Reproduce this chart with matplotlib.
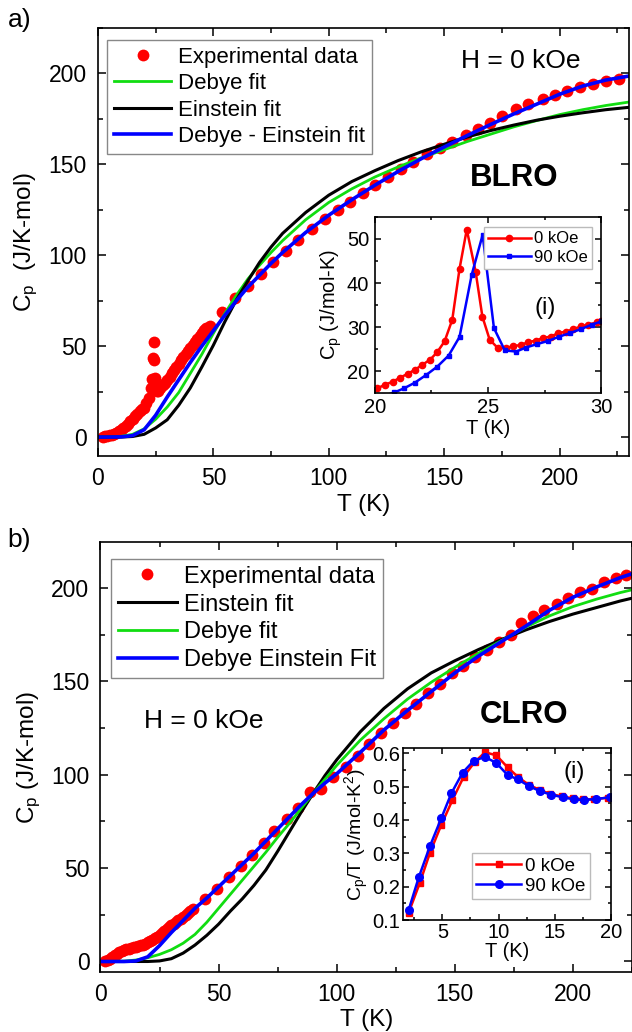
import matplotlib
matplotlib.use('Agg')
import matplotlib.pyplot as plt
from matplotlib.ticker import MultipleLocator

plt.rcParams['font.family'] = ['Liberation Sans', 'DejaVu Sans']
plt.rcParams['mathtext.default'] = 'regular'

# ---------- panel a (BLRO) ----------
a_T_dense = [2, 3, 4, 5, 6, 7, 8, 9, 10, 11, 12, 13, 14, 15, 16, 17, 18, 19, 20, 21, 22, 23,
             23.4, 23.7, 24.1, 24.45, 24.75, 25.1, 25.5, 26, 27, 28, 29, 30, 31, 32, 33, 34,
             35, 36, 37, 38, 39, 40, 41, 42, 43, 44, 45, 46, 47]
a_C_dense = [0.2, 0.4, 0.6, 0.9, 1.3, 1.8, 2.4, 3.1, 4.0, 5.0, 6.1, 7.3, 8.6, 10.0, 11.4, 12.9,
             14.3, 15.3, 16.2, 18.6, 21.5, 26.8, 31.7, 43.2, 52.1, 42.6, 32.4, 27.2, 25.3, 25.5,
             27.1, 28.5, 29.9, 31.5, 33.2, 35.0, 36.8, 38.6, 40.4, 42.1, 43.9, 45.6, 47.3, 49.0,
             50.7, 52.4, 54.0, 55.6, 57.2, 58.7, 60.0]
a_T_exp = [48.4, 53.6, 59.2, 65.0, 70.6, 76.0, 81.6, 86.8, 92.6, 98.2, 104.0, 109.2, 114.8,
           120.0, 125.6, 131.4, 136.6, 142.4, 148.0, 153.6, 159.4, 164.6, 169.9, 175.1, 180.9,
           186.4, 192.6, 197.8, 203.0, 208.8, 214.4, 220.2, 225.8]
a_C_exp = [61.2, 69.0, 76.4, 83.1, 89.5, 96.0, 102.5, 108.5, 114.5, 119.8, 124.7, 129.2, 134.0,
           138.6, 143.2, 147.6, 151.5, 155.6, 159.2, 162.5, 166.0, 169.6, 172.9, 176.4, 180.3,
           183.4, 186.1, 188.2, 190.3, 192.4, 194.1, 195.6, 196.7]

a_T_fit = [0, 5, 10, 15, 20, 25, 30, 35, 40, 45, 50, 55, 60, 65, 70, 75, 80, 90, 100, 110,
           120, 130, 140, 150, 160, 170, 180, 190, 200, 210, 220, 230]
a_debye = [0, 0.1, 0.4, 1.5, 4.5, 9.8, 16.5, 24.5, 35.0, 45.5, 57.0, 68.0, 78.0, 87.0, 94.5,
           101.5, 108.0, 119.5, 129.0, 136.5, 143.0, 148.5, 153.5, 158.0, 162.5, 166.5, 170.5,
           174.0, 177.3, 180.0, 182.3, 184.2]
a_einstein = [0, 0, 0, 0.3, 1.5, 5.0, 9.5, 17.5, 27.0, 38.5, 50.5, 63.5, 75.5, 86.0, 96.0,
              104.5, 112.0, 123.5, 133.0, 140.5, 146.5, 152.0, 156.8, 161.0, 165.0, 168.5,
              171.5, 174.2, 176.4, 178.3, 180.0, 181.3]
a_deb_ein = [0, 0, 0.1, 0.8, 4.0, 12.0, 22.0, 31.5, 41.0, 50.0, 58.5, 67.0, 75.0, 82.5, 89.0,
             95.5, 101.5, 112.5, 122.0, 130.5, 138.5, 146.0, 153.0, 159.5, 165.8, 171.8, 177.6,
             183.0, 188.5, 193.0, 196.3, 198.5]

# inset a: Cp vs T near transition
ia_T0 = [20.12, 20.45, 20.8, 21.12, 21.46, 21.78, 22.1, 22.45, 22.76, 23.08, 23.42, 23.74,
         24.06, 24.45, 24.75, 25.07, 25.43, 25.78, 26.1, 26.44, 26.76, 27.12, 27.44, 27.78,
         28.1, 28.45, 28.77, 29.11, 29.43, 29.79, 30.0]
ia_C0 = [16.2, 17.0, 17.7, 18.6, 19.5, 20.4, 21.5, 22.7, 24.4, 26.8, 31.7, 43.2, 52.1, 42.6,
         32.4, 27.2, 25.3, 25.3, 25.7, 26.0, 26.6, 27.0, 27.6, 27.9, 28.7, 29.0, 29.6, 30.2,
         30.6, 31.1, 31.5]
ia_T90 = [20.38, 20.86, 21.3, 21.78, 22.28, 22.76, 23.26, 23.74, 24.28, 24.76, 25.26, 25.74,
          26.24, 26.67, 27.17, 27.65, 28.15, 28.63, 29.11, 29.58, 30.0]
ia_C90 = [14.4, 15.25, 16.2, 17.5, 19.25, 21.1, 23.6, 27.8, 41.9, 50.9, 29.8, 24.75, 24.5,
          25.4, 26.2, 26.9, 27.9, 28.7, 29.6, 30.6, 31.3]

# ---------- panel b (CLRO) ----------
b_T_dense = [2, 3, 4, 5, 6, 7, 8, 9, 10, 11, 12, 13, 14, 15, 16, 17, 18, 19, 20, 21, 22, 23,
             24, 25, 26, 27, 28, 29, 30, 31, 32, 33, 34, 35, 36, 37, 38, 39]
b_C_dense = [0.5, 1.0, 1.6, 2.4, 3.3, 4.2, 5.0, 5.7, 6.2, 6.6, 6.9, 7.2, 7.5, 7.8, 8.2, 8.6,
             9.1, 9.6, 10.2, 10.9, 11.6, 12.4, 13.3, 14.3, 15.3, 16.3, 17.3, 18.3, 19.3, 20.3,
             21.2, 22.1, 23.0, 24.0, 25.0, 26.0, 27.0, 28.0]
b_T_exp = [44.4, 49.5, 54.3, 59.4, 64.0, 69.1, 73.4, 78.9, 83.6, 88.8, 93.5, 98.6, 103.8,
           108.8, 113.5, 118.6, 123.7, 128.8, 133.6, 138.5, 143.6, 148.7, 153.5, 158.6, 163.7,
           168.9, 173.6, 178.2, 183.3, 187.6, 193.2, 197.8, 202.9, 208.0, 213.2, 218.3, 222.5]
b_C_exp = [33.2, 39.0, 45.2, 51.0, 57.2, 63.5, 70.0, 76.5, 82.0, 90.5, 92.5, 98.8, 104.1,
           110.0, 116.5, 122.3, 127.7, 133.1, 138.1, 143.5, 148.8, 154.2, 158.3, 163.1, 166.9,
           171.1, 175.0, 181.0, 184.9, 188.1, 191.4, 194.4, 197.9, 199.6, 203.3, 205.1, 206.9]

b_T_fit = [0, 5, 10, 15, 20, 25, 30, 35, 40, 45, 50, 55, 60, 65, 70, 75, 80, 85, 90, 95, 100,
           110, 120, 130, 140, 150, 160, 170, 180, 190, 200, 210, 220, 226]
b_einstein = [0, 0, 0, 0, 0, 0.3, 1.5, 4.5, 8.8, 14.0, 20.0, 27.0, 33.5, 40.8, 49.0, 59.0,
              69.5, 80.0, 90.0, 99.5, 108.0, 123.0, 135.5, 146.0, 154.5, 161.0, 167.0, 172.5,
              177.5, 182.0, 186.0, 189.5, 193.0, 194.8]
b_debye = [0, 0, 0.2, 0.8, 2.0, 3.8, 6.3, 9.8, 14.5, 21.0, 28.5, 36.0, 43.5, 51.0, 58.5,
           66.5, 74.0, 82.0, 90.0, 97.5, 105.0, 118.5, 130.0, 140.5, 149.5, 157.5, 165.0,
           172.0, 179.0, 185.0, 190.0, 194.0, 197.5, 199.3]
b_deb_ein = [0, 0, 0, 0.3, 2.5, 8.5, 15.5, 22.0, 28.5, 34.0, 40.0, 46.0, 52.0, 58.0, 64.5,
             71.0, 77.5, 84.0, 90.0, 95.5, 100.5, 112.0, 124.0, 134.5, 144.5, 154.5, 163.5,
             171.5, 179.5, 188.0, 195.0, 200.5, 205.5, 208.0]

# inset b: Cp/T vs T
ib_T0 = [2.0, 3.0, 3.9, 4.9, 5.9, 6.9, 7.9, 8.8, 9.8, 10.8, 11.7, 12.7, 13.7, 14.6, 15.6,
         16.6, 17.5, 18.5, 19.7]
ib_C0 = [0.122, 0.212, 0.302, 0.385, 0.460, 0.530, 0.575, 0.603, 0.594, 0.558, 0.530, 0.505,
         0.490, 0.478, 0.471, 0.465, 0.462, 0.462, 0.467]
ib_T90 = [2.0, 2.9, 3.9, 4.9, 5.8, 6.8, 7.8, 8.8, 9.8, 10.8, 11.7, 12.7, 13.7, 14.7, 15.7,
          16.7, 17.6, 18.7, 19.9]
ib_C90 = [0.130, 0.228, 0.322, 0.405, 0.480, 0.542, 0.578, 0.589, 0.571, 0.535, 0.522, 0.502,
          0.486, 0.476, 0.468, 0.462, 0.460, 0.463, 0.468]

RED = '#ff0000'
GREEN = '#11dd11'
BLUE = '#0000ff'


def style_axes(ax, size, pad, major=6, minor=3.5):
    for s in ax.spines.values():
        s.set_linewidth(1.2)
    ax.tick_params(which='both', direction='in', top=True, right=True, width=1.1,
                   labelsize=size, pad=pad)
    ax.tick_params(which='major', length=major)
    ax.tick_params(which='minor', length=minor)


fig = plt.figure(figsize=(6.32, 10.32), dpi=100)

# ----- panel a -----
ax1 = fig.add_axes([0.155, 0.558, 0.840, 0.415])
ax1.plot(a_T_dense, a_C_dense, 'o', color=RED, ms=8.5, mew=0, label='Experimental data')
ax1.plot(a_T_exp, a_C_exp, 'o', color=RED, ms=8.5, mew=0)
ax1.plot(a_T_fit, a_debye, color=GREEN, lw=2.0, label='Debye fit')
ax1.plot(a_T_fit, a_einstein, color='black', lw=2.2, label='Einstein fit')
ax1.plot(a_T_fit, a_deb_ein, color=BLUE, lw=2.6, label='Debye - Einstein fit')
ax1.set_xlim(0, 230)
ax1.set_ylim(-10.5, 225)
ax1.xaxis.set_major_locator(MultipleLocator(50))
ax1.xaxis.set_minor_locator(MultipleLocator(25))
ax1.yaxis.set_major_locator(MultipleLocator(50))
ax1.yaxis.set_minor_locator(MultipleLocator(25))
style_axes(ax1, 16.5, 8)
ax1.set_xlabel('T (K)', fontsize=17.5, labelpad=3)
ax1.set_ylabel('C$_p$  (J/K-mol)', fontsize=17.5, labelpad=6)
leg = ax1.legend(loc='upper left', bbox_to_anchor=(0.017, 0.972), borderaxespad=0,
                 fontsize=16, numpoints=1, handlelength=2.6, handletextpad=0.3,
                 labelspacing=0.25, borderpad=0.3, fancybox=False, framealpha=1)
leg.get_frame().set_edgecolor('#888888')
leg.get_frame().set_linewidth(1.0)

ins1 = fig.add_axes([0.593, 0.6195, 0.3585, 0.1705])
ins1.plot(ia_T0, ia_C0, '-o', color=RED, lw=1.8, ms=4.5, label='0 kOe')
ins1.plot(ia_T90, ia_C90, '-s', color=BLUE, lw=1.8, ms=3.2, label='90 kOe')
ins1.set_xlim(20, 30)
ins1.set_ylim(15.2, 55)
ins1.xaxis.set_major_locator(MultipleLocator(5))
ins1.xaxis.set_minor_locator(MultipleLocator(2.5))
ins1.yaxis.set_major_locator(MultipleLocator(10))
ins1.yaxis.set_minor_locator(MultipleLocator(5))
style_axes(ins1, 14.5, 4, major=4, minor=2.5)
ins1.set_xlabel('T (K)', fontsize=14.5, labelpad=1)
ins1.set_ylabel('C$_p$ (J/mol-K)', fontsize=14.5, labelpad=2)
lg1 = ins1.legend(loc='upper right', bbox_to_anchor=(0.96, 0.94), borderaxespad=0,
                  fontsize=12, numpoints=1, handlelength=2.6, handletextpad=0.2,
                  labelspacing=0.2, borderpad=0.25, fancybox=False, framealpha=1)
lg1.get_frame().set_edgecolor('#bbbbbb')
ins1.text(0.75, 0.48, '(i)', transform=ins1.transAxes, ha='center', va='center', fontsize=17)

fig.text(0.824, 0.941, 'H = 0 kOe', ha='center', va='center', fontsize=19)
fig.text(0.813, 0.8275, 'BLRO', ha='center', va='center', fontsize=22.5, fontweight='bold')
fig.text(0.012, 0.992, 'a)', ha='left', va='top', fontsize=19)

# ----- panel b -----
ax2 = fig.add_axes([0.159, 0.058, 0.841, 0.417])
ax2.plot(b_T_dense, b_C_dense, 'o', color=RED, ms=8.5, mew=0, label='Experimental data')
ax2.plot(b_T_exp, b_C_exp, 'o', color=RED, ms=8.5, mew=0)
ax2.plot(b_T_fit, b_einstein, color='black', lw=2.2, label='Einstein fit')
ax2.plot(b_T_fit, b_debye, color=GREEN, lw=2.0, label='Debye fit')
ax2.plot(b_T_fit, b_deb_ein, color=BLUE, lw=2.6, label='Debye Einstein Fit')
ax2.set_xlim(0, 225)
ax2.set_ylim(-5.7, 224.7)
ax2.xaxis.set_major_locator(MultipleLocator(50))
ax2.xaxis.set_minor_locator(MultipleLocator(25))
ax2.yaxis.set_major_locator(MultipleLocator(50))
ax2.yaxis.set_minor_locator(MultipleLocator(25))
style_axes(ax2, 16.5, 8)
ax2.set_xlabel('T (K)', fontsize=17.5, labelpad=2)
ax2.set_ylabel('C$_p$ (J/K-mol)', fontsize=17.5, labelpad=6)
leg2 = ax2.legend(loc='upper left', bbox_to_anchor=(0.019, 0.961), borderaxespad=0,
                  fontsize=17, numpoints=1, handlelength=2.5, handletextpad=0.3,
                  labelspacing=0.25, borderpad=0.3, fancybox=False, framealpha=1)
leg2.get_frame().set_edgecolor('#888888')
leg2.get_frame().set_linewidth(1.0)

ins2 = fig.add_axes([0.6377, 0.1085, 0.329, 0.1664])
ins2.plot(ib_T0, ib_C0, '-s', color=RED, lw=1.8, ms=5, label='0 kOe')
ins2.plot(ib_T90, ib_C90, '-o', color=BLUE, lw=1.8, ms=5.5, label='90 kOe')
ins2.set_xlim(1.5, 20)
ins2.set_ylim(0.1, 0.615)
ins2.xaxis.set_major_locator(MultipleLocator(5))
ins2.xaxis.set_minor_locator(MultipleLocator(2.5))
ins2.yaxis.set_major_locator(MultipleLocator(0.1))
ins2.yaxis.set_minor_locator(MultipleLocator(0.05))
style_axes(ins2, 14.5, 2, major=4, minor=2.5)
ins2.set_xlabel('T (K)', fontsize=14.5, labelpad=0)
ins2.set_ylabel('C$_p$/T (J/mol-K$^2$)', fontsize=14, labelpad=1)
lg2 = ins2.legend(loc='lower right', bbox_to_anchor=(0.9, 0.12), borderaxespad=0,
                  fontsize=13.5, numpoints=1, handlelength=2.4, handletextpad=0.2,
                  labelspacing=0.15, borderpad=0.25, fancybox=False, framealpha=1)
lg2.get_frame().set_edgecolor('#bbbbbb')

fig.text(0.322, 0.3014, 'H = 0 kOe', ha='center', va='center', fontsize=19)
fig.text(0.829, 0.307, 'CLRO', ha='center', va='center', fontsize=22.5, fontweight='bold')
fig.text(0.909, 0.252, '(i)', ha='center', va='center', fontsize=17)
fig.text(0.012, 0.488, 'b)', ha='left', va='top', fontsize=19)

fig.savefig('out.png', dpi=100)
